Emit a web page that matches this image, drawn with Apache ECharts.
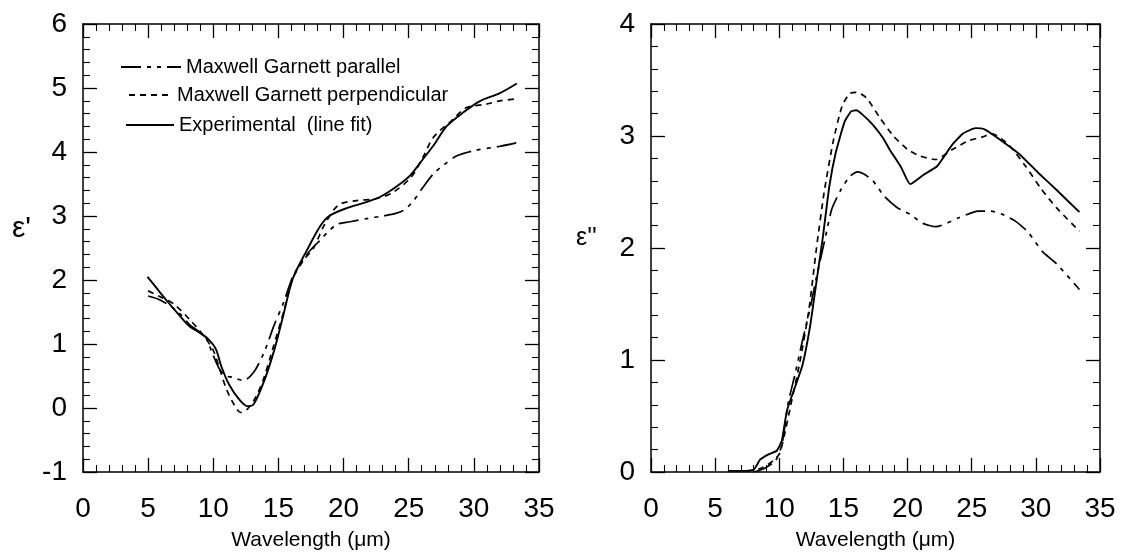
<!DOCTYPE html>
<html>
<head>
<meta charset="utf-8">
<script src="https://cdn.jsdelivr.net/npm/echarts@6/dist/echarts.min.js"></script>
<style>
html,body{margin:0;padding:0;background:#fff;}
#chart{width:1131px;height:556px;}
</style>
</head>
<body>
<div id="chart"></div>
<script>
// ---- Data (wavelength in µm, epsilon values) ----
const seriesNames = ['Maxwell Garnett parallel', 'Maxwell Garnett perpendicular', 'Experimental  (line fit)'];
const xTicks = [0, 5, 10, 15, 20, 25, 30, 35];
const leftYTicks = [-1, 0, 1, 2, 3, 4, 5, 6];
const rightYTicks = [0, 1, 2, 3, 4];

// Left panel: real part ε'
const leftParallel = [[5.0,1.75],[6.0,1.68],[7.3,1.5],[8.2,1.3],[9.4,1.11],[9.9,0.87],[10.5,0.6],[11.0,0.5],[11.5,0.48],[12.3,0.43],[13.1,0.56],[13.9,0.87],[14.7,1.31],[15.4,1.65],[16.1,2.05],[17.0,2.35],[17.6,2.5],[18.2,2.62],[18.7,2.73],[19.5,2.87],[20.5,2.91],[21.8,2.96],[23.0,3.0],[24.0,3.04],[24.6,3.09],[25.3,3.22],[26.1,3.45],[26.9,3.66],[27.7,3.8],[28.7,3.94],[30.0,4.02],[32.0,4.09],[33.4,4.15]];
const leftPerpendicular = [[5.0,1.83],[6.0,1.73],[7.0,1.62],[8.2,1.38],[9.3,1.12],[10.0,0.9],[10.5,0.6],[11.0,0.3],[11.6,0.05],[12.1,-0.07],[12.6,-0.02],[13.2,0.15],[13.8,0.42],[14.6,0.95],[15.4,1.5],[16.1,2.02],[16.9,2.3],[17.7,2.5],[18.5,2.85],[19.6,3.17],[21.0,3.24],[22.5,3.27],[23.8,3.37],[25.2,3.61],[26.1,3.92],[26.9,4.23],[28.3,4.49],[29.4,4.69],[31.0,4.75],[32.0,4.8],[33.3,4.83]];
const leftExperimental = [[4.95,2.05],[5.7,1.86],[6.5,1.66],[7.3,1.47],[8.15,1.28],[9.0,1.17],[9.6,1.08],[10.2,0.92],[10.6,0.66],[11.2,0.37],[12.0,0.13],[12.6,0.03],[13.1,0.06],[13.9,0.42],[14.7,0.92],[15.4,1.47],[16.1,2.02],[17.2,2.47],[18.2,2.84],[18.9,3.0],[20.2,3.12],[21.8,3.22],[23.0,3.32],[24.2,3.48],[25.1,3.63],[26.1,3.89],[27.0,4.13],[27.9,4.4],[29.2,4.62],[30.5,4.8],[32.0,4.92],[33.3,5.07]];

// Right panel: imaginary part ε''
const rightParallel = [[8.0,0.0],[8.8,0.03],[9.7,0.1],[10.2,0.24],[10.7,0.62],[11.2,0.86],[11.8,1.17],[12.4,1.46],[12.9,1.74],[13.6,2.1],[14.1,2.35],[14.8,2.52],[15.5,2.64],[16.1,2.68],[16.6,2.66],[17.3,2.6],[18.2,2.46],[19.2,2.36],[20.2,2.3],[21.2,2.22],[22.2,2.19],[24.0,2.27],[25.5,2.33],[26.4,2.33],[27.4,2.3],[28.4,2.24],[29.4,2.14],[30.5,1.97],[31.6,1.86],[33.4,1.63]];
const rightPerpendicular = [[7.5,0.01],[8.5,0.03],[9.3,0.08],[10.0,0.16],[10.4,0.33],[10.9,0.6],[11.6,0.98],[12.3,1.44],[12.9,2.0],[13.5,2.5],[14.2,2.95],[14.9,3.27],[15.5,3.38],[16.0,3.39],[16.8,3.34],[17.8,3.17],[18.9,3.0],[20.0,2.88],[21.0,2.82],[22.2,2.79],[23.5,2.88],[24.8,2.96],[25.8,2.99],[26.6,3.02],[27.9,2.92],[29.2,2.73],[30.4,2.53],[31.6,2.36],[33.4,2.15]];
const rightExperimental = [[6.0,0.01],[7.0,0.01],[8.0,0.02],[8.5,0.11],[9.2,0.16],[9.8,0.19],[10.2,0.28],[10.6,0.55],[11.2,0.75],[11.8,0.95],[12.4,1.3],[12.9,1.7],[13.4,2.1],[13.9,2.55],[14.4,2.85],[15.1,3.13],[15.6,3.22],[16.0,3.23],[16.4,3.2],[17.3,3.1],[18.1,2.98],[18.6,2.88],[19.5,2.72],[20.2,2.57],[21.2,2.65],[22.3,2.73],[23.4,2.91],[24.3,3.02],[25.3,3.07],[26.0,3.06],[26.8,3.0],[28.7,2.84],[30.2,2.67],[31.6,2.52],[33.4,2.32]];

// ---- Chart ----
const FONT = 'Liberation Sans, Arial, Helvetica, sans-serif';
const chart = echarts.init(document.getElementById('chart'), null, {renderer: 'canvas'});

function xAxis(gridIndex, position, showLabel) {
  return {
    type: 'value', gridIndex, position,
    min: xTicks[0], max: xTicks[xTicks.length - 1], interval: xTicks[1] - xTicks[0],
    axisLine: {show: true, onZero: false, lineStyle: {color: '#000', width: 1.5}},
    axisTick: {show: true, inside: true, length: 14, lineStyle: {color: '#000', width: 1.3}},
    minorTick: {show: true, splitNumber: 5, length: 7, lineStyle: {color: '#000', width: 1.1}},
    splitLine: {show: false},
    axisLabel: {show: showLabel, color: '#000', fontSize: 28, fontFamily: FONT, margin: 23},
    name: showLabel ? 'Wavelength (\u03bcm)' : '',
    nameLocation: 'middle', nameGap: 58,
    nameTextStyle: {color: '#000', fontSize: 21, fontFamily: FONT}
  };
}
function yAxis(gridIndex, position, showLabel, ticks) {
  return {
    type: 'value', gridIndex, position,
    min: ticks[0], max: ticks[ticks.length - 1], interval: ticks[1] - ticks[0],
    axisLine: {show: true, onZero: false, lineStyle: {color: '#000', width: 1.5}},
    axisTick: {show: true, inside: true, length: 14, lineStyle: {color: '#000', width: 1.3}},
    minorTick: {show: true, splitNumber: 5, length: 7, lineStyle: {color: '#000', width: 1.1}},
    splitLine: {show: false},
    axisLabel: {show: showLabel, color: '#000', fontSize: 28, fontFamily: FONT, margin: 16}
  };
}

const styles = [
  {type: [20, 6, 4, 6, 4, 6], width: 1.7},
  {type: [6, 5], width: 1.7},
  {type: 'solid', width: 1.9}
];

function mk(name, data, idx, xi, yi, smooth) {
  return {
    name, type: 'line', data, xAxisIndex: xi, yAxisIndex: yi,
    showSymbol: false, symbol: 'none', symbolSize: 0, smooth,
    lineStyle: Object.assign({color: '#000'}, styles[idx]),
    itemStyle: {color: '#000'},
    emphasis: {disabled: true}, silent: true, animation: false
  };
}

const legendText = {color: '#000', fontSize: 20, fontFamily: FONT};
const legendItem = {opacity: 0, borderWidth: 0};

const option = {
  backgroundColor: '#fff',
  animation: false,
  grid: [
    {left: 83, right: 592, top: 24, bottom: 81},
    {left: 651, right: 31, top: 24, bottom: 81}
  ],
  xAxis: [xAxis(0, 'bottom', true), xAxis(0, 'top', false), xAxis(1, 'bottom', true), xAxis(1, 'top', false)],
  yAxis: [yAxis(0, 'left', true, leftYTicks), yAxis(0, 'right', false, leftYTicks), yAxis(1, 'left', true, rightYTicks), yAxis(1, 'right', false, rightYTicks)],
  legend: [
    {data: [seriesNames[0]], left: 120, top: 57, padding: 0, itemWidth: 60, itemHeight: 14, selectedMode: false, itemStyle: legendItem, textStyle: legendText},
    {data: [seriesNames[1]], left: 128, top: 85, padding: 0, itemWidth: 43, itemHeight: 14, selectedMode: false, itemStyle: legendItem, textStyle: legendText},
    {data: [seriesNames[2]], left: 125, top: 115, padding: 0, itemWidth: 48, itemHeight: 14, selectedMode: false, itemStyle: legendItem, textStyle: legendText}
  ],
  graphic: [
    {type: 'text', left: 12, top: 214, style: {text: "\u03b5'", fill: '#000', font: '30px ' + FONT}},
    {type: 'text', left: 576, top: 226, style: {text: "\u03b5''", fill: '#000', font: '25px ' + FONT}}
  ],
  series: [
    mk(seriesNames[0], leftParallel, 0, 0, 0, 0.3),
    mk(seriesNames[1], leftPerpendicular, 1, 0, 0, 0.3),
    mk(seriesNames[2], leftExperimental, 2, 0, 0, 0.3),
    mk(seriesNames[0], rightParallel, 0, 2, 2, 0.2),
    mk(seriesNames[1], rightPerpendicular, 1, 2, 2, 0.2),
    mk(seriesNames[2], rightExperimental, 2, 2, 2, 0.15)
  ]
};
chart.setOption(option);
</script>
</body>
</html>
